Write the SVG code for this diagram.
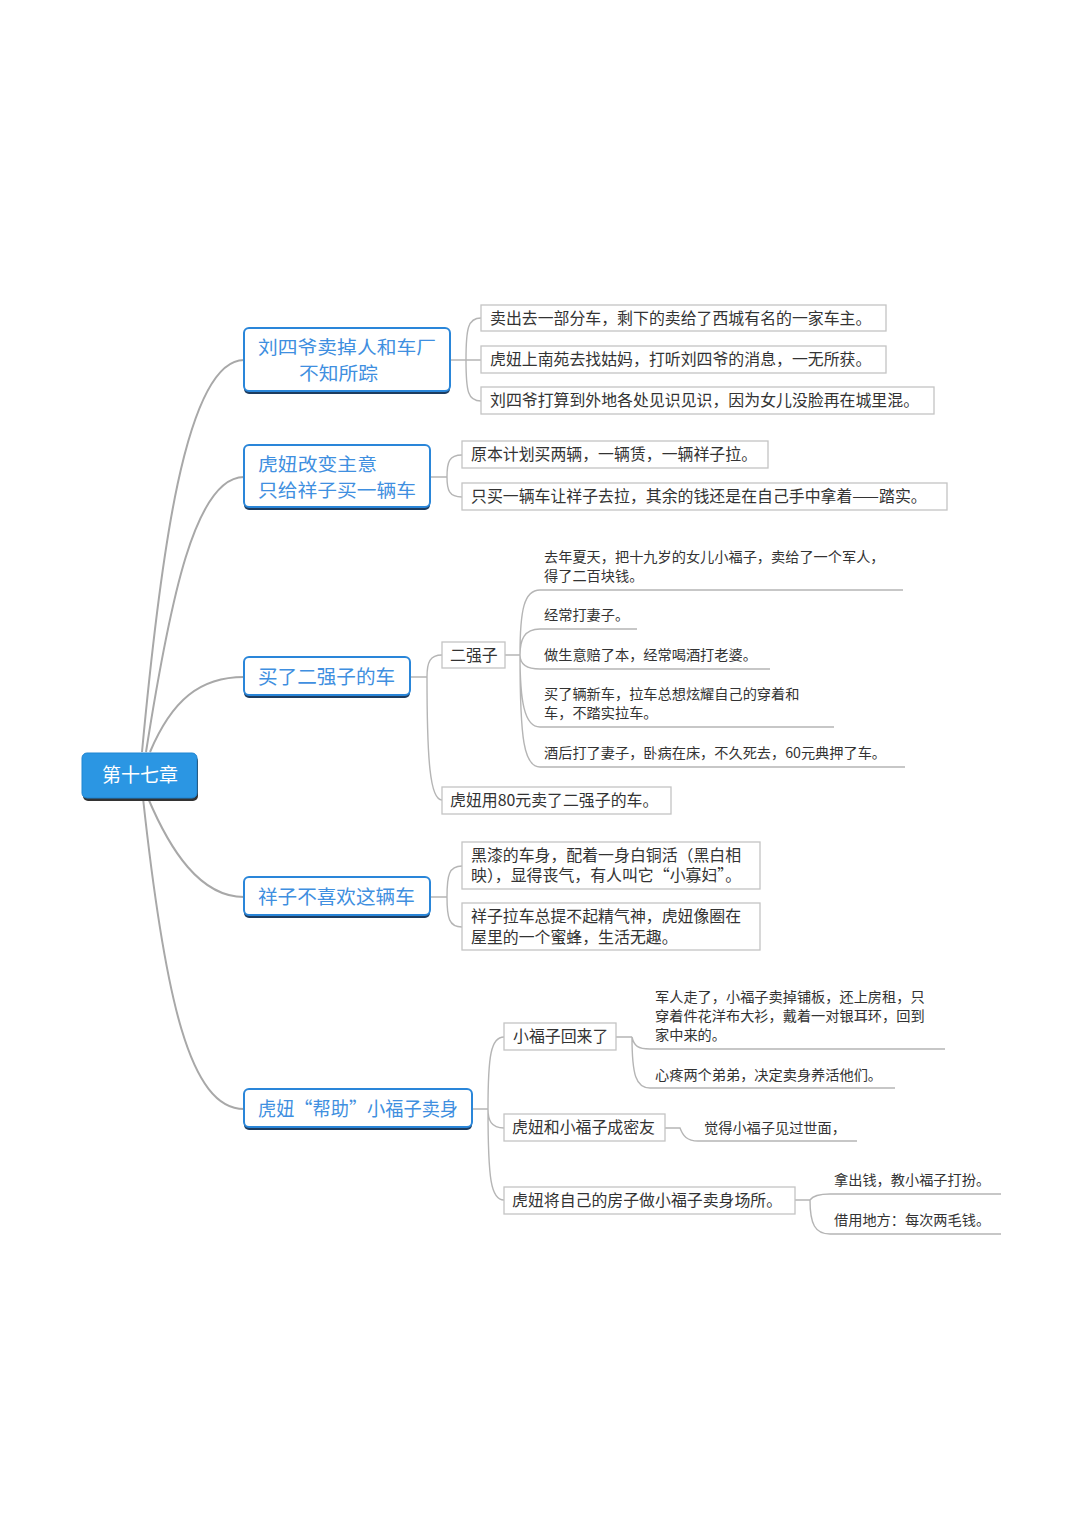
<svg xmlns="http://www.w3.org/2000/svg" width="1080" height="1534" viewBox="0 0 1080 1534">
<style>
.main{fill:#fff;stroke:#2a86d9;stroke-width:2}
.shadow{fill:#1d3c60}
.mt{font-family:"Noto Sans CJK SC","Noto Sans",sans-serif;font-size:19.6px;fill:#3f8fe0}
.mt2{font-family:"Noto Sans CJK SC","Noto Sans",sans-serif;font-size:17.8px;fill:#3f8fe0}
.sb{fill:#fff;stroke:#c4c4c4;stroke-width:1.3}
.st{font-family:"Noto Sans CJK SC","Noto Sans",sans-serif;font-size:15.9px;fill:#333}
.ut{font-family:"Noto Sans CJK SC","Noto Sans",sans-serif;font-size:14.2px;fill:#333}
.c{fill:none;stroke:#b5b5b5;stroke-width:1.4}
.cm{fill:none;stroke:#a8a8a8;stroke-width:2}
</style>
<rect width="1080" height="1534" fill="#fff"/>
<g id="connectors">
<path class="cm" d="M142 752 C160 560,185 360,244 360"/>
<path class="cm" d="M146 752 C170 600,195 477,244 477"/>
<path class="cm" d="M150 752 C172 700,200 677,244 677"/>
<path class="cm" d="M148 798 C170 850,200 897,244 897"/>
<path class="cm" d="M143 798 C165 1000,190 1109,244 1109"/>
<path class="c" d="M450 360 H466 M466 360 C466 328,468 318,481 318 M466 360 H481 M466 360 C466 392,468 401,481 401"/>
<path class="c" d="M430 477 H447 M447 477 C447 462,449 455,462 455 M447 477 C447 490,449 497,462 497"/>
<path class="c" d="M410 677 H427 M427 677 C427 662,430 655,442 655 M427 677 C427 760,430 800,442 800"/>
<path class="c" d="M505 655 H520 M520 655 C520 610,524 590,540 590 H903 M520 655 C520 640,524 629,540 629 H637 M520 655 C520 662,524 669,540 669 H770 M520 655 C520 700,524 727,540 727 H834 M520 655 C520 740,524 767,540 767 H905"/>
<path class="c" d="M430 897 H447 M447 897 C447 875,449 866,462 866 M447 897 C447 918,449 927,462 927"/>
<path class="c" d="M472 1109 H488 M488 1109 C488 1055,491 1037,504 1037 M488 1109 C488 1120,491 1128,504 1128 M488 1109 C488 1180,491 1200,504 1200"/>
<path class="c" d="M616 1037 H632 M632 1037 C634 1046,638 1049,650 1049 H945 M632 1037 C632 1075,636 1088,650 1088 H895"/>
<path class="c" d="M665 1128 H680 C683 1136,687 1141,698 1141 H857"/>
<path class="c" d="M795 1200 H810 C812 1197,816 1194,830 1194 H1001 M810 1200 C810 1224,815 1234,830 1234 H1001"/>
</g>
<g id="root">
<rect x="83" y="756" width="115" height="45" rx="5" fill="#333"/>
<rect x="82" y="753" width="115" height="45" rx="5" fill="#2b96e3" stroke="#1f85d2" stroke-width="1"/>
<text x="140" y="782" text-anchor="middle" font-family="Noto Sans CJK SC,sans-serif" font-size="19" fill="#fff">第十七章</text>
</g>
<g id="b1">
<rect class="shadow" x="244" y="331" width="206" height="63" rx="5"/>
<rect class="main" x="244" y="328" width="206" height="63" rx="5"/>
<text class="mt2" x="258" y="354" textLength="178" lengthAdjust="spacingAndGlyphs">刘四爷卖掉人和车厂</text>
<text class="mt2" x="299" y="380" textLength="79" lengthAdjust="spacingAndGlyphs">不知所踪</text>
</g>
<g id="b1s1"><rect class="sb" x="481" y="305" width="405" height="26"/><text class="st" x="490" y="324">卖出去一部分车，剩下的卖给了西城有名的一家车主。</text></g>
<g id="b1s2"><rect class="sb" x="481" y="346" width="405" height="27"/><text class="st" x="490" y="365">虎妞上南苑去找姑妈，打听刘四爷的消息，一无所获。</text></g>
<g id="b1s3"><rect class="sb" x="481" y="387" width="453" height="27"/><text class="st" x="490" y="406">刘四爷打算到外地各处见识见识，因为女儿没脸再在城里混。</text></g>
<g id="b2">
<rect class="shadow" x="244" y="448" width="186" height="62" rx="5"/>
<rect class="main" x="244" y="445" width="186" height="62" rx="5"/>
<text class="mt2" x="258" y="471" textLength="119" lengthAdjust="spacingAndGlyphs">虎妞改变主意</text>
<text class="mt2" x="258" y="497" textLength="158" lengthAdjust="spacingAndGlyphs">只给祥子买一辆车</text>
</g>
<g id="b2s1"><rect class="sb" x="462" y="441" width="306" height="27"/><text class="st" x="471" y="460">原本计划买两辆，一辆赁，一辆祥子拉。</text></g>
<g id="b2s2"><rect class="sb" x="462" y="483" width="485" height="27"/><text class="st" x="471" y="502">只买一辆车让祥子去拉，其余的钱还是在自己手中拿着——踏实。</text></g>
<g id="b3">
<rect class="shadow" x="244" y="660" width="166" height="38" rx="5"/>
<rect class="main" x="244" y="657" width="166" height="38" rx="5"/>
<text class="mt" x="258" y="684">买了二强子的车</text>
</g>
<g id="b3s1"><rect class="sb" x="442" y="642" width="63" height="26"/><text class="st" x="450" y="661">二强子</text></g>
<g id="b3s2"><rect class="sb" x="442" y="787" width="229" height="27"/><text class="st" x="450" y="806">虎妞用80元卖了二强子的车。</text></g>
<g id="e1"><text class="ut"><tspan x="544" y="562">去年夏天，把十九岁的女儿小福子，卖给了一个军人，</tspan><tspan x="544" y="581">得了二百块钱。</tspan></text></g>
<g id="e2"><text class="ut" x="544" y="620">经常打妻子。</text></g>
<g id="e3"><text class="ut" x="544" y="660">做生意赔了本，经常喝酒打老婆。</text></g>
<g id="e4"><text class="ut"><tspan x="544" y="699">买了辆新车，拉车总想炫耀自己的穿着和</tspan><tspan x="544" y="718">车，不踏实拉车。</tspan></text></g>
<g id="e5"><text class="ut" x="544" y="758">酒后打了妻子，卧病在床，不久死去，60元典押了车。</text></g>
<g id="b4">
<rect class="shadow" x="244" y="880" width="186" height="38" rx="5"/>
<rect class="main" x="244" y="877" width="186" height="38" rx="5"/>
<text class="mt" x="258" y="904">祥子不喜欢这辆车</text>
</g>
<g id="b4s1"><rect class="sb" x="462" y="842" width="298" height="47"/><text class="st"><tspan x="471" y="861">黑漆的车身，配着一身白铜活（黑白相</tspan><tspan x="471" y="881">映），显得丧气，有人叫它“小寡妇”。</tspan></text></g>
<g id="b4s2"><rect class="sb" x="462" y="903" width="298" height="47"/><text class="st"><tspan x="471" y="922">祥子拉车总提不起精气神，虎妞像圈在</tspan><tspan x="471" y="943">屋里的一个蜜蜂，生活无趣。</tspan></text></g>
<g id="b5">
<rect class="shadow" x="244" y="1092" width="228" height="38" rx="5"/>
<rect class="main" x="244" y="1089" width="228" height="38" rx="5"/>
<text class="mt" x="258" y="1116" textLength="200" lengthAdjust="spacingAndGlyphs">虎妞“帮助”小福子卖身</text>
</g>
<g id="b5s1"><rect class="sb" x="504" y="1023" width="112" height="27"/><text class="st" x="513" y="1042">小福子回来了</text></g>
<g id="b5s2"><rect class="sb" x="504" y="1114" width="161" height="27"/><text class="st" x="512" y="1133">虎妞和小福子成密友</text></g>
<g id="b5s3"><rect class="sb" x="504" y="1187" width="291" height="27"/><text class="st" x="512" y="1206">虎妞将自己的房子做小福子卖身场所。</text></g>
<g id="f1"><text class="ut"><tspan x="655" y="1002">军人走了，小福子卖掉铺板，还上房租，只</tspan><tspan x="655" y="1021">穿着件花洋布大衫，戴着一对银耳环，回到</tspan><tspan x="655" y="1040">家中来的。</tspan></text></g>
<g id="f2"><text class="ut" x="655" y="1080">心疼两个弟弟，决定卖身养活他们。</text></g>
<g id="f3"><text class="ut" x="704" y="1133">觉得小福子见过世面，</text></g>
<g id="f4"><text class="ut" x="834" y="1185">拿出钱，教小福子打扮。</text></g>
<g id="f5"><text class="ut" x="834" y="1225">借用地方：每次两毛钱。</text></g>
</svg>
